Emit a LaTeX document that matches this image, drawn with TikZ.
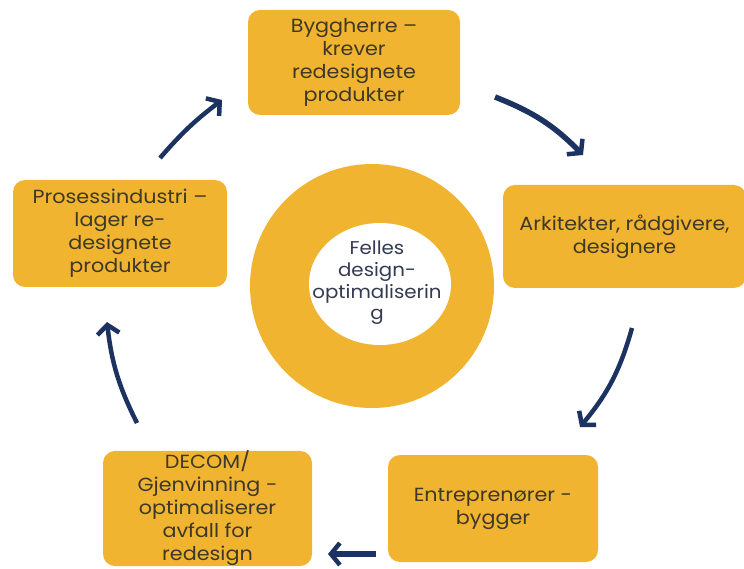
\documentclass[tikz,border=0pt]{standalone}
\usepackage{fontspec}
\setmainfont{Poppins}[FakeStretch=1.09]
\newfontfamily\corefont{Poppins}[FakeStretch=1.07]
\usetikzlibrary{arrows.meta}
\definecolor{gold}{HTML}{F0B430}
\definecolor{navy}{HTML}{1C3260}
\definecolor{boxtext}{HTML}{3D3828}
\definecolor{ctext}{HTML}{343A52}
\tikzset{
  stagebox/.style={draw=none, fill=gold, rounded corners=12pt, inner sep=0pt,
    align=center, text=boxtext, font=\fontsize{19}{23}\selectfont},
  flow/.style={draw=navy, line width=4.5pt,
    -{Straight Barb[length=9pt,width=22pt,line width=4.5pt]}},
}
\begin{document}
\begin{tikzpicture}[x=1pt,y=-1pt]
\useasboundingbox (0,0) rectangle (744,569);
% central ring
\fill[gold] (372,286) circle (122);
\fill[white] (380,284) ellipse (71 and 61);
\node[align=center, text=ctext, font=\corefont\fontsize{18.5}{21.7}\selectfont] (core) at (377,283)
  {Felles\\design-\\optimaliserin\\g};
% boxes
\node[stagebox, minimum width=212pt, minimum height=105pt] (bygg) at (354,62.5)
  {Byggherre –\\krever\\redesignete\\produkter};
\node[stagebox, minimum width=243pt, minimum height=103pt] (ark) at (624.5,236.5)
  {Arkitekter, rådgivere,\\designere};
\node[stagebox, minimum width=210pt, minimum height=107pt] (ent) at (493,508.5)
  {Entreprenører -\\bygger};
\node[stagebox, minimum width=209pt, minimum height=113pt] (decom) at (207.5,508.5)
  {DECOM/\\Gjenvinning -\\optimaliserer\\avfall for\\redesign};
\node[stagebox, minimum width=214pt, minimum height=107pt] (pros) at (120,233.5)
  {Prosessindustri –\\lager re-\\designete\\produkter};
% arrow ends
\coordinate (a1s) at (495,97);  \coordinate (a1e) at (583,155);
\coordinate (a2s) at (632,328); \coordinate (a2e) at (580,427);
\coordinate (a3s) at (376,554); \coordinate (a3e) at (328,554);
\coordinate (a4s) at (137,423); \coordinate (a4e) at (107,322);
\coordinate (a5s) at (160,158); \coordinate (a5e) at (222,100);
\draw[flow, line width=5.5pt] (a1s) to[bend left=12] (a1e);
\draw[flow] (a2s) to[bend left=12] (a2e);
\draw[flow, line width=5.5pt] (a3s) -- (a3e);
\draw[flow] (a4s) to[bend left=10] (a4e);
\draw[flow] (a5s) to[bend left=6] (a5e);
\end{tikzpicture}
\end{document}
